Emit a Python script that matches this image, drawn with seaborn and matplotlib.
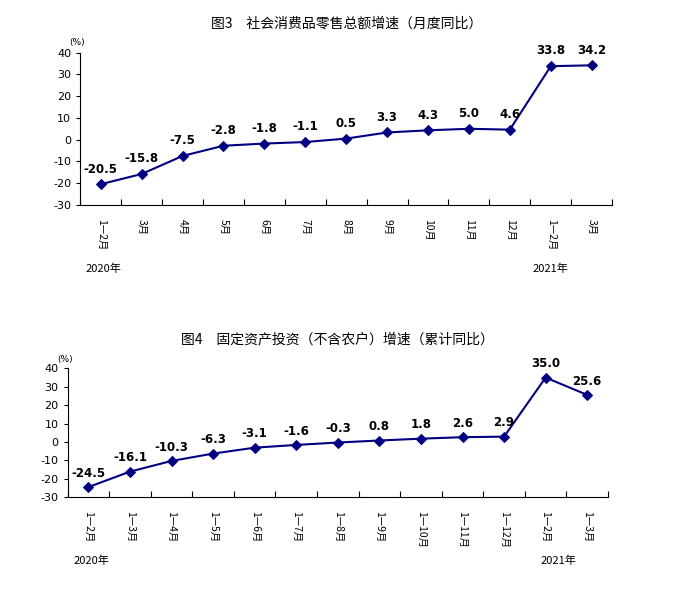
import numpy as np
import pandas as pd
import seaborn as sns
import matplotlib.pyplot as plt

plt.rcParams["font.family"] = "Noto Sans CJK SC"

# ================= DATA =================
retail_months = ["1—2月", "3月", "4月", "5月", "6月", "7月", "8月", "9月",
                 "10月", "11月", "12月", "1—2月", "3月"]
retail_values = [-20.5, -15.8, -7.5, -2.8, -1.8, -1.1, 0.5, 3.3, 4.3, 5.0, 4.6, 33.8, 34.2]

invest_months = ["1—2月", "1—3月", "1—4月", "1—5月", "1—6月", "1—7月", "1—8月", "1—9月",
                 "1—10月", "1—11月", "1—12月", "1—2月", "1—3月"]
invest_values = [-24.5, -16.1, -10.3, -6.3, -3.1, -1.6, -0.3, 0.8, 1.8, 2.6, 2.9, 35.0, 25.6]

yticks = [40, 30, 20, 10, 0, -10, -20, -30]
NAVY = "#000080"

fig = plt.figure(figsize=(6.98, 5.99), dpi=100)


def draw(ax, labels, values, title, x2021):
    df = pd.DataFrame({"x": np.arange(len(values)), "y": values})
    sns.lineplot(data=df, x="x", y="y", ax=ax, color=NAVY, lw=1.5,
                 marker="D", markersize=5, markeredgecolor=NAVY)
    for x, y in zip(df["x"], df["y"]):
        ax.text(x, y + 4, f"{y:.1f}", ha="center", va="bottom",
                fontsize=8.5, fontweight="bold", family="DejaVu Sans")
    ax.set_xlim(-0.5, len(values) - 0.5)
    ax.set_ylim(-30, 40)
    ax.set_yticks(yticks)
    ax.set_yticklabels([str(t) for t in yticks], family="DejaVu Sans", fontsize=8)
    ax.set_xticks(np.arange(len(values) + 1) - 0.5, minor=False)
    ax.set_xticklabels([])
    ax.set_xticks(np.arange(len(values)), minor=True)
    ax.set_xticklabels(labels, minor=True, rotation=-90, fontsize=7.5)
    ax.tick_params(axis="x", which="major", direction="in", length=4)
    ax.tick_params(axis="x", which="minor", length=0, pad=10)
    ax.tick_params(axis="y", direction="out", length=3)
    ax.set_xlabel("")
    ax.set_ylabel("")
    for s in ["top", "right"]:
        ax.spines[s].set_visible(False)
    ax.set_title(title, fontsize=10, pad=18)
    ax.text(-0.02, 1.05, "(%)", transform=ax.transAxes, fontsize=6.5,
            family="DejaVu Sans", ha="left")
    ax.annotate("2020年", xy=(0.01, 0), xycoords="axes fraction",
                xytext=(0, -42), textcoords="offset points",
                fontsize=8, ha="left", va="top")
    ax.annotate("2021年", xy=(x2021, -30), xycoords="data",
                xytext=(0, -42), textcoords="offset points",
                fontsize=8, ha="center", va="top")


ax1 = fig.add_axes([0.115, 0.658, 0.762, 0.254])
draw(ax1, retail_months, retail_values, "图3　社会消费品零售总额增速（月度同比）", 11.0)

ax2 = fig.add_axes([0.097, 0.170, 0.774, 0.215])
draw(ax2, invest_months, invest_values, "图4　固定资产投资（不含农户）增速（累计同比）", 11.3)

fig.savefig("out.png", dpi=100)
